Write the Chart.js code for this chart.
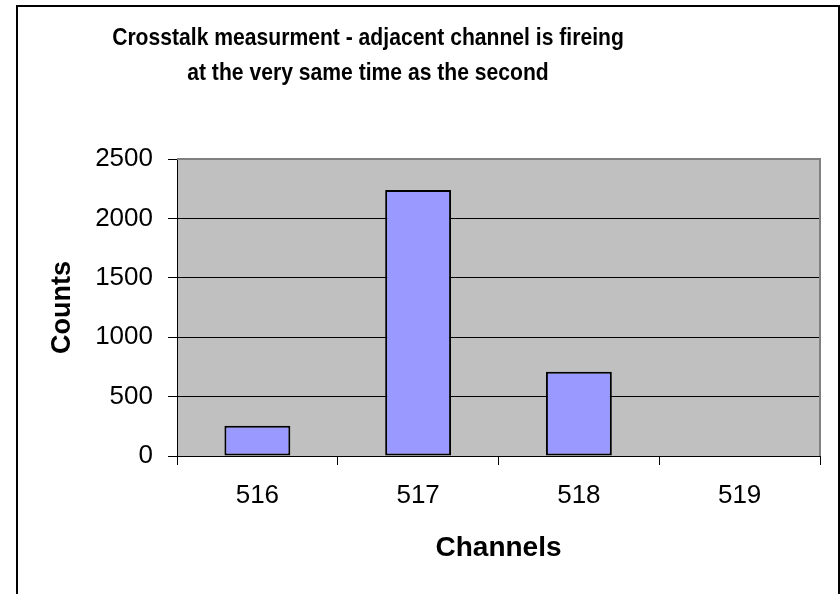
<!DOCTYPE html>
<html><head><meta charset="utf-8">
<script src="https://cdn.jsdelivr.net/npm/chart.js@4/dist/chart.umd.min.js"></script>
<style>html,body{margin:0;padding:0;background:#fff;}</style>
</head><body>
<canvas id="c" width="840" height="594"></canvas>
<script>
const titleLines = ['Crosstalk measurment - adjacent channel is fireing', 'at the very same time as the second'];
const channels = ['516', '517', '518', '519'];
const counts = [255, 2240, 710, 0];
const yMin = 0, yMax = 2500, yStep = 500;
const xTitle = 'Channels';
const yTitle = 'Counts';

const FONT = '"Liberation Sans", Arial, sans-serif';

const framePlugin = {
  id: 'frame',
  beforeDraw(chart) {
    const {ctx, chartArea: a} = chart;
    ctx.save();
    ctx.fillStyle = '#ffffff';
    ctx.fillRect(0, 0, chart.width, chart.height);
    // outer chart border
    ctx.strokeStyle = '#000000';
    ctx.lineWidth = 2;
    ctx.strokeRect(17, 6, 822, 620);
    // plot area
    ctx.fillStyle = '#C0C0C0';
    ctx.fillRect(a.left, a.top, a.right - a.left, a.bottom - a.top);
    ctx.restore();
  },
  afterDraw(chart) {
    const {ctx, chartArea: a} = chart;
    ctx.save();
    ctx.strokeStyle = '#808080';
    ctx.lineWidth = 2;
    ctx.beginPath();
    ctx.moveTo(a.left, a.top);
    ctx.lineTo(a.right, a.top);
    ctx.lineTo(a.right, a.bottom);
    ctx.stroke();
    // title (condensed, as in the original rendering)
    ctx.fillStyle = '#000000';
    ctx.font = 'bold 24px ' + FONT;
    ctx.textAlign = 'center';
    ctx.textBaseline = 'alphabetic';
    const cx = 368, sx = 0.88;
    ctx.translate(cx, 0);
    ctx.scale(sx, 1);
    ctx.fillText(titleLines[0], 0, 45);
    ctx.fillText(titleLines[1], 0, 80);
    ctx.restore();
  }
};

new Chart(document.getElementById('c'), {
  type: 'bar',
  data: {
    labels: channels,
    datasets: [{
      data: counts,
      backgroundColor: '#9999FF',
      borderColor: '#000000',
      borderWidth: 2,
      borderSkipped: false,
      barPercentage: 0.41,
      categoryPercentage: 1.0
    }]
  },
  options: {
    responsive: false,
    animation: false,
    devicePixelRatio: 1,
    layout: {padding: {left: 0, right: 20, top: 159, bottom: 0}},
    plugins: {legend: {display: false}, tooltip: {enabled: false}, title: {display: false}},
    scales: {
      x: {
        offset: true,
        afterFit(s) { s.height = 138; },
        grid: {display: true, drawOnChartArea: false, offset: true, tickLength: 9, color: '#000000', lineWidth: 1},
        border: {display: true, color: '#000000', width: 1},
        ticks: {color: '#000000', padding: 15, font: {family: FONT, size: 26}},
        title: {display: true, text: xTitle, color: '#000000', padding: {top: 0, bottom: 29}, font: {family: FONT, size: 28, weight: 'bold'}}
      },
      y: {
        min: yMin, max: yMax,
        afterFit(s) { s.width = 177; },
        grid: {display: true, drawOnChartArea: true, tickLength: 9, color: '#000000', lineWidth: 1},
        border: {display: true, color: '#000000', width: 1},
        ticks: {stepSize: yStep, color: '#000000', padding: 15, font: {family: FONT, size: 26}, callback: (v) => String(v)},
        title: {display: true, text: yTitle, color: '#000000', padding: {top: 46, bottom: 0}, font: {family: FONT, size: 27, weight: 'bold'}}
      }
    }
  },
  plugins: [framePlugin]
});
</script>
</body></html>
